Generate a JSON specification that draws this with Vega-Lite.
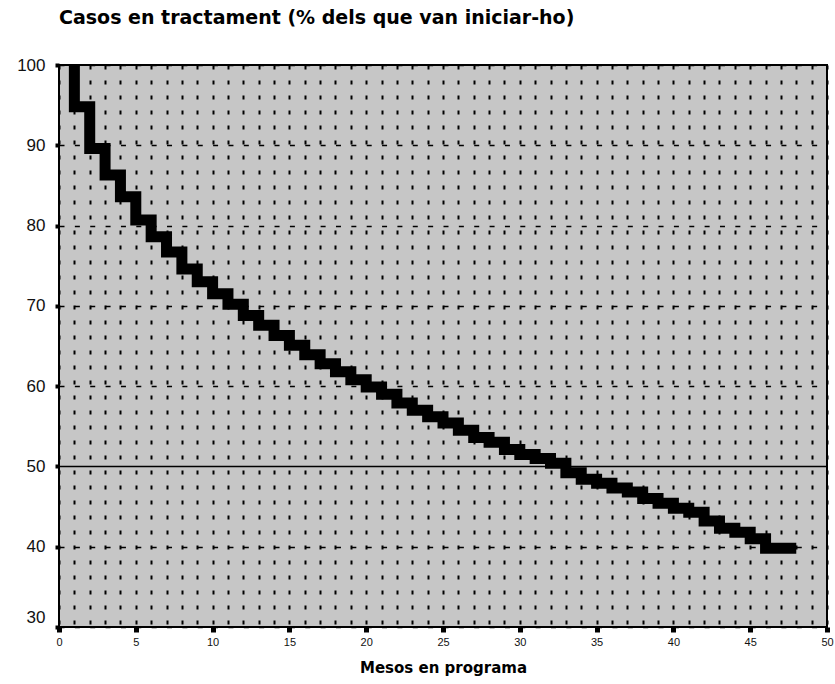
{
  "$schema": "https://vega.github.io/schema/vega-lite/v6.json",
  "autosize": "none",
  "width": 768,
  "height": 562,
  "padding": {"left": 59, "top": 65, "right": 8, "bottom": 57},
  "background": "#ffffff",
  "title": {
    "text": "Casos en tractament (% dels que van iniciar-ho)",
    "anchor": "start",
    "frame": "group",
    "font": "DejaVu Sans",
    "fontSize": 19,
    "fontWeight": "bold",
    "color": "#000000",
    "baseline": "alphabetic",
    "offset": 13
  },
  "config": {
    "view": {"fill": "#c6c6c6", "stroke": "#000000", "strokeWidth": 2},
    "axis": {"labelFont": "Liberation Sans", "titleFont": "DejaVu Sans", "labelColor": "#111111", "titleColor": "#000000"}
  },
  "data": {
    "values": [
      {"mes": 1, "pct": 100},
      {"mes": 1, "pct": 94.8},
      {"mes": 2, "pct": 89.6},
      {"mes": 3, "pct": 86.3},
      {"mes": 4, "pct": 83.6},
      {"mes": 5, "pct": 80.7},
      {"mes": 6, "pct": 78.6},
      {"mes": 7, "pct": 76.7},
      {"mes": 8, "pct": 74.6},
      {"mes": 9, "pct": 73.0},
      {"mes": 10, "pct": 71.5},
      {"mes": 11, "pct": 70.2},
      {"mes": 12, "pct": 68.8},
      {"mes": 13, "pct": 67.6},
      {"mes": 14, "pct": 66.3},
      {"mes": 15, "pct": 65.1},
      {"mes": 16, "pct": 63.9},
      {"mes": 17, "pct": 62.8},
      {"mes": 18, "pct": 61.8},
      {"mes": 19, "pct": 60.8},
      {"mes": 20, "pct": 59.9},
      {"mes": 21, "pct": 59.0},
      {"mes": 22, "pct": 57.9},
      {"mes": 23, "pct": 57.0},
      {"mes": 24, "pct": 56.2},
      {"mes": 25, "pct": 55.4},
      {"mes": 26, "pct": 54.5},
      {"mes": 27, "pct": 53.6},
      {"mes": 28, "pct": 53.0},
      {"mes": 29, "pct": 52.1},
      {"mes": 30, "pct": 51.5},
      {"mes": 31, "pct": 51.0},
      {"mes": 32, "pct": 50.4},
      {"mes": 33, "pct": 49.2},
      {"mes": 34, "pct": 48.4},
      {"mes": 35, "pct": 47.9},
      {"mes": 36, "pct": 47.3},
      {"mes": 37, "pct": 46.8},
      {"mes": 38, "pct": 46.0},
      {"mes": 39, "pct": 45.4},
      {"mes": 40, "pct": 44.8},
      {"mes": 41, "pct": 44.3},
      {"mes": 42, "pct": 43.2},
      {"mes": 43, "pct": 42.3},
      {"mes": 44, "pct": 41.8},
      {"mes": 45, "pct": 41.0},
      {"mes": 46, "pct": 39.8},
      {"mes": 47, "pct": 39.8},
      {"mes": 48, "pct": 39.8}
    ]
  },
  "mark": {"type": "line", "interpolate": "step-after", "color": "#000000", "strokeWidth": 11, "strokeCap": "butt", "strokeJoin": "miter", "clip": true},
  "encoding": {
    "x": {
      "field": "mes",
      "type": "quantitative",
      "scale": {"domain": [0, 50], "nice": false},
      "axis": {
        "values": [0,1,2,3,4,5,6,7,8,9,10,11,12,13,14,15,16,17,18,19,20,21,22,23,24,25,26,27,28,29,30,31,32,33,34,35,36,37,38,39,40,41,42,43,44,45,46,47,48,49,50],
        "labelExpr": "datum.value % 5 === 0 ? datum.label : ''",
        "domain": false,
        "grid": true,
        "gridColor": "#000000",
        "gridDash": [4, 11],
        "gridWidth": 2,
        "gridOpacity": 1,
        "tickColor": "#000000",
        "tickSize": {"condition": {"test": "datum.value % 5 === 0", "value": 5}, "value": 0},
        "tickWidth": 5,
        "labelFontSize": 11,
        "labelPadding": 4,
        "labelFlush": false,
        "labelOverlap": false,
        "title": "Mesos en programa",
        "titleFontSize": 15,
        "titleFontWeight": "bold",
        "titlePadding": 13
      }
    },
    "y": {
      "field": "pct",
      "type": "quantitative",
      "scale": {"domain": [30, 100], "nice": false, "zero": false},
      "axis": {
        "values": [30, 40, 50, 60, 70, 80, 90, 100],
        "domain": false,
        "grid": true,
        "gridColor": "#000000",
        "gridOpacity": 1,
        "gridDash": {"condition": {"test": "datum.value === 50", "value": []}, "value": [5, 10.36]},
        "gridWidth": 1.5,
        "tickColor": "#000000",
        "tickSize": 4,
        "tickWidth": 4,
        "labelFontSize": 17,
        "labelPadding": 10,
        "labelFlush": false,
        "labelOverlap": false,
        "labelOffset": {"condition": {"test": "datum.value === 30", "value": -10}, "value": 0},
        "title": null
      }
    },
    "order": {"value": null}
  }
}
